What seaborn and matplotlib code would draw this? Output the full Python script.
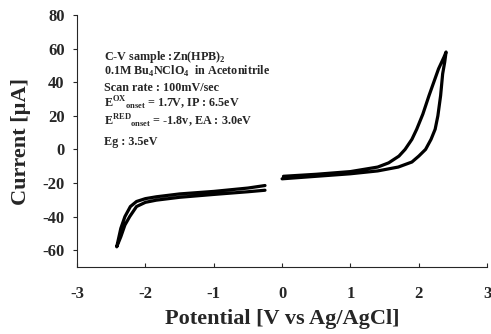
import matplotlib
matplotlib.use("Agg")
import matplotlib.pyplot as plt
import seaborn as sns
import pandas as pd

sns.set_style("ticks")
plt.rcParams['font.family'] = ['Liberation Serif', 'DejaVu Serif']
plt.rcParams['font.weight'] = 'bold'
plt.rcParams['axes.unicode_minus'] = False
plt.rcParams['mathtext.fontset'] = 'custom'
plt.rcParams['mathtext.rm'] = 'Liberation Serif:bold'
plt.rcParams['mathtext.bf'] = 'Liberation Serif:bold'

# oxidation scan (0 -> 2.4 V and back)
ox_fwd_v = [0.0, 0.5, 1.0, 1.4, 1.7, 1.9, 2.0, 2.1, 2.18, 2.24, 2.28, 2.32, 2.35, 2.38, 2.4]
ox_fwd_i = [-17.5, -16, -14.5, -12.8, -10.5, -7.5, -4, 0, 6, 12, 20, 32, 45, 52, 58]
ox_rev_v = [2.4, 2.37, 2.29, 2.22, 2.15, 2.06, 1.97, 1.9, 1.8, 1.71, 1.56, 1.4, 1.0, 0.5, 0.02]
ox_rev_i = [58, 55, 48, 40, 32, 21, 12, 6, 0, -4, -8, -10.5, -13.2, -14.8, -16]

# reduction scan (-0.25 -> -2.42 V and back)
red_fwd_v = [-0.25, -0.5, -1.0, -1.5, -1.84, -2.0, -2.13, -2.22, -2.3, -2.36, -2.42]
red_fwd_i = [-21.5, -23, -25, -26.5, -28.2, -29.3, -31, -34, -40, -47, -58]
red_rev_v = [-2.42, -2.36, -2.3, -2.23, -2.13, -2.0, -1.84, -1.5, -1.0, -0.5, -0.25]
red_rev_i = [-58, -52, -45, -40, -34, -31.5, -30.2, -28.5, -26.8, -25.2, -24.3]

x_ticks = [-3, -2, -1, 0, 1, 2, 3]
y_ticks = [-60, -40, -20, 0, 20, 40, 60, 80]

info_lines = [
    r"C-V sample :Zn(HPB)$_2$",
    r"0.1M Bu$_4$NClO$_4$  in Acetonitrile",
    r"Scan rate : 100mV/sec",
    r"E$^{\mathrm{OX}}$$_{\mathrm{onset}}$ = 1.7V, IP : 6.5eV",
    r"E$^{\mathrm{RED}}$$_{\mathrm{onset}}$ = -1.8v, EA : 3.0eV",
    r"Eg : 3.5eV",
]
info_y = [53.2, 44.3, 34.8, 25.2, 14.5, 2.6]

segments = pd.DataFrame({
    "V": ox_fwd_v + ox_rev_v + red_fwd_v + red_rev_v,
    "I": ox_fwd_i + ox_rev_i + red_fwd_i + red_rev_i,
    "seg": ["ox"] * (len(ox_fwd_v) + len(ox_rev_v)) + ["red"] * (len(red_fwd_v) + len(red_rev_v)),
})

fig = plt.figure(figsize=(4.91, 3.34), dpi=100)
ax = fig.add_axes([0.157, 0.2006, 0.835, 0.7544])

for seg, d in segments.groupby("seg"):
    sns.lineplot(data=d, x="V", y="I", sort=False, estimator=None,
                 color="black", lw=2.3, ax=ax)

ax.set_xlim(-3, 3)
ax.set_ylim(-70, 80)
ax.set_xticks(x_ticks)
ax.set_yticks(y_ticks)
ax.tick_params(axis='x', direction='in', length=3, labelsize=12, pad=14)
ax.tick_params(axis='y', direction='out', length=3, labelsize=12, pad=6)
for lab in ax.get_xticklabels() + ax.get_yticklabels():
    lab.set_fontweight('bold')
ax.set_xlabel("Potential [V vs Ag/AgCl]", fontsize=16, fontweight='bold', labelpad=5)
ax.set_ylabel("Current [\u00b5A]", fontsize=16, fontweight='bold', labelpad=8)
sns.despine(ax=ax)
for s in ax.spines.values():
    s.set_linewidth(0.8)

for txt, yy in zip(info_lines, info_y):
    ax.text(-2.6, yy, txt, fontsize=8.7, fontweight='bold', va='baseline', ha='left')

fig.savefig("out.png", dpi=100)
